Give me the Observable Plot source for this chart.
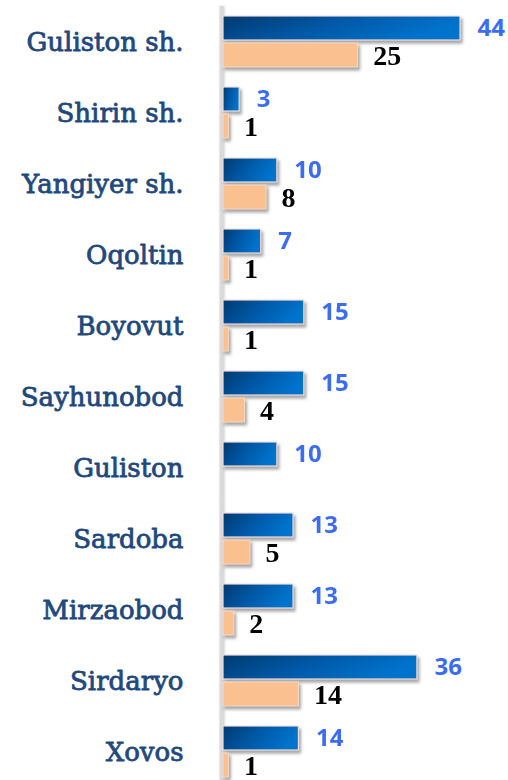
<!DOCTYPE html>
<html><head><meta charset="utf-8">
<script src="https://cdn.jsdelivr.net/npm/d3@7"></script>
<script src="https://cdn.jsdelivr.net/npm/@observablehq/plot@0.6"></script>
<style>
html,body{margin:0;padding:0;background:#fff;overflow:hidden;}
g[aria-label="bar"]{filter:drop-shadow(2px 3px 1.5px rgba(0,0,0,0.35));}
g[aria-label="rule"]{filter:drop-shadow(1px 0px 1px rgba(0,0,0,0.2));}
</style></head><body><div id="chart"></div>
<script>
const categories = ["Guliston sh.","Shirin sh.","Yangiyer sh.","Oqoltin","Boyovut","Sayhunobod","Guliston","Sardoba","Mirzaobod","Sirdaryo","Xovos"];
const seriesA = [44,3,10,7,15,15,10,13,13,36,14];
const seriesB = [25,1,8,1,1,4,null,5,2,14,1];

const dataA = categories.map((c,i)=>({cat:c, v:seriesA[i]}));
const dataB = categories.map((c,i)=>({cat:c, v:seriesB[i]})).filter(d=>d.v!=null);

const plot = Plot.plot({
  width: 508, height: 780,
  marginLeft: 223, marginRight: 48, marginTop: 0, marginBottom: 0,
  x: {domain:[0,44], axis:null},
  fy: {domain: categories, range:[6.5, 787.5], paddingInner:0.268, paddingOuter:0.134, axis:null, label:null},
  y: {domain:["a","b"], paddingInner:0.11, paddingOuter:0, axis:null},
  marks: [
    Plot.ruleX([0], {stroke:"#dadada", strokeWidth:4, dx:-2, insetTop:-10, insetBottom:-10}),
    Plot.barX(dataA, {fy:"cat", y:()=>"a", x:"v", fill:"url(#blueGrad)", stroke:"#f2dcdb", strokeWidth:1.2}),
    Plot.barX(dataB, {fy:"cat", y:()=>"b", x:"v", fill:"#fac090", stroke:"#f7d9c4", strokeWidth:1}),
    Plot.text(dataA, {fy:"cat", y:()=>"a", x:"v", text:d=>String(d.v), textAnchor:"start", dx:17, fill:"#3b6cf2", fontSize:24, fontFamily:"Open Sans", fontWeight:700}),
    Plot.text(dataB, {fy:"cat", y:()=>"b", x:"v", text:d=>String(d.v), textAnchor:"start", dx:15, dy:1, fill:"#000", fontSize:28, fontFamily:"Liberation Serif", fontWeight:"bold"}),
    Plot.text(categories, {fy:d=>d, frameAnchor:"left", dx:-40, textAnchor:"end", text:d=>d, fill:"#1f497d", stroke:"#1f497d", strokeWidth:0.8, fontSize:26, fontFamily:"DejaVu Serif"})
  ]
});
const svg = d3.select(plot);
const defs = svg.insert("defs", ":first-child");
const g = defs.append("linearGradient").attr("id","blueGrad").attr("x1","0").attr("x2","1").attr("y1","0").attr("y2","0.3");
g.append("stop").attr("offset","0").attr("stop-color","#003a70");
g.append("stop").attr("offset","0.5").attr("stop-color","#0058a6");
g.append("stop").attr("offset","1").attr("stop-color","#0073cc");
document.getElementById("chart").appendChild(plot);
</script></body></html>
